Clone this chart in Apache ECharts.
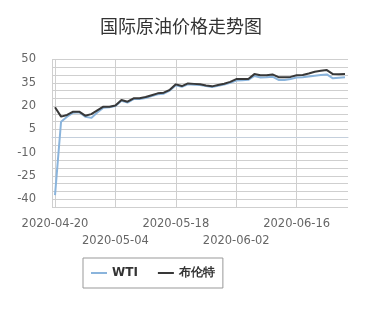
<!DOCTYPE html>
<html>
<head>
<meta charset="utf-8">
<script src="https://cdn.jsdelivr.net/npm/echarts@6/dist/echarts.min.js"></script>
<style>html,body{margin:0;padding:0;background:#fff;}#c{width:385px;height:315px;}</style>
</head>
<body>
<div id="c"></div>
<script>
var dates = ['2020-04-20','2020-04-21','2020-04-22','2020-04-23','2020-04-24','2020-04-27','2020-04-28','2020-04-29','2020-04-30','2020-05-01',
 '2020-05-04','2020-05-05','2020-05-06','2020-05-07','2020-05-08','2020-05-11','2020-05-12','2020-05-13','2020-05-14','2020-05-15',
 '2020-05-18','2020-05-19','2020-05-20','2020-05-21','2020-05-22','2020-05-26','2020-05-27','2020-05-28','2020-05-29','2020-06-01',
 '2020-06-02','2020-06-03','2020-06-04','2020-06-05','2020-06-08','2020-06-09','2020-06-10','2020-06-11','2020-06-12','2020-06-15',
 '2020-06-16','2020-06-17','2020-06-18','2020-06-19','2020-06-22','2020-06-23','2020-06-24','2020-06-25','2020-06-26'];
var wti = [-37.3, 9.9, 13.1, 15.7, 16.0, 13.1, 12.4, 15.8, 19.0, 19.3,
 20.0, 23.4, 22.2, 24.5, 24.5, 25.2, 26.4, 27.6, 28.0, 30.0,
 33.4, 32.4, 34.0, 33.8, 33.5, 32.9, 32.3, 33.1, 33.9, 35.0,
 36.5, 36.7, 36.9, 39.4, 38.4, 38.5, 38.9, 36.8, 36.8, 37.5,
 38.4, 38.6, 39.0, 39.5, 40.0, 40.4, 37.9, 38.3, 38.5];
var brent = [19.2, 13.2, 14.3, 16.4, 16.4, 13.8, 14.8, 17.2, 19.6, 19.6,
 20.4, 23.9, 22.8, 25.0, 25.0, 25.8, 27.0, 28.2, 28.6, 30.5,
 34.0, 32.9, 34.6, 34.3, 34.0, 33.3, 32.7, 33.6, 34.4, 35.6,
 37.4, 37.4, 37.5, 40.6, 39.8, 39.8, 40.4, 38.6, 38.5, 38.8,
 39.9, 40.0, 41.0, 42.1, 42.7, 43.2, 40.6, 40.5, 40.6];
var seriesNames = ['WTI', '布伦特'];
var yLabels = [-40, -25, -10, 5, 20, 35, 50];

var labelBase = {fontSize: 11.5, color: '#666', fontFamily: 'DejaVu Sans', hideOverlap: false};

var chart = echarts.init(document.getElementById('c'), null, {renderer: 'canvas'});
chart.setOption({
  animation: false,
  title: {
    text: '国际原油价格走势图',
    left: 100, top: 17, padding: 0,
    textStyle: {fontSize: 18, fontWeight: 'normal', color: '#333', fontFamily: 'Noto Sans CJK SC'}
  },
  legend: {
    left: 83, top: 258,
    borderColor: '#999', borderWidth: 1, padding: [9, 8],
    itemGap: 20, itemWidth: 16, itemHeight: 2, icon: 'rect',
    textStyle: {fontSize: 12, fontWeight: 'bold', color: '#333', fontFamily: 'DejaVu Sans'},
    data: seriesNames
  },
  grid: {left: 52, top: 59.5, width: 296, height: 147.5, containLabel: false},
  xAxis: [{
    type: 'category',
    data: dates,
    boundaryGap: true,
    axisLine: {lineStyle: {color: '#c4cfdc', width: 1}},
    axisTick: {interval: 9, alignWithLabel: true, length: 9, lineStyle: {color: '#c4cfdc'}},
    splitLine: {show: true, interval: 9, alignWithLabel: true, lineStyle: {color: '#cfcfcf', width: 1}},
    axisLabel: Object.assign({}, labelBase, {
      margin: 11,
      interval: function (idx) { return idx % 20 === 0; }
    })
  }, {
    type: 'category',
    data: dates,
    position: 'bottom',
    boundaryGap: true,
    axisLine: {show: false},
    axisTick: {show: false},
    splitLine: {show: false},
    axisLabel: Object.assign({}, labelBase, {
      margin: 28,
      interval: function (idx) { return idx % 20 === 10; }
    })
  }],
  yAxis: {
    type: 'value', min: -45, max: 50, interval: 5,
    axisLine: {show: true, lineStyle: {color: '#cfcfcf'}},
    axisTick: {show: false},
    splitLine: {lineStyle: {color: '#cfcfcf', width: 1}},
    axisLabel: {
      margin: 16, fontSize: 11.5, color: '#666', fontFamily: 'DejaVu Sans',
      formatter: function (v) { return yLabels.indexOf(v) >= 0 ? String(v) : ''; }
    }
  },
  series: [
    {name: seriesNames[0], type: 'line', xAxisIndex: 0, data: wti, symbol: 'none', lineStyle: {color: '#8ab4dc', width: 2}, itemStyle: {color: '#8ab4dc'}},
    {name: seriesNames[1], type: 'line', xAxisIndex: 0, data: brent, symbol: 'none', lineStyle: {color: '#383838', width: 2}, itemStyle: {color: '#383838'}}
  ]
});
</script>
</body>
</html>
